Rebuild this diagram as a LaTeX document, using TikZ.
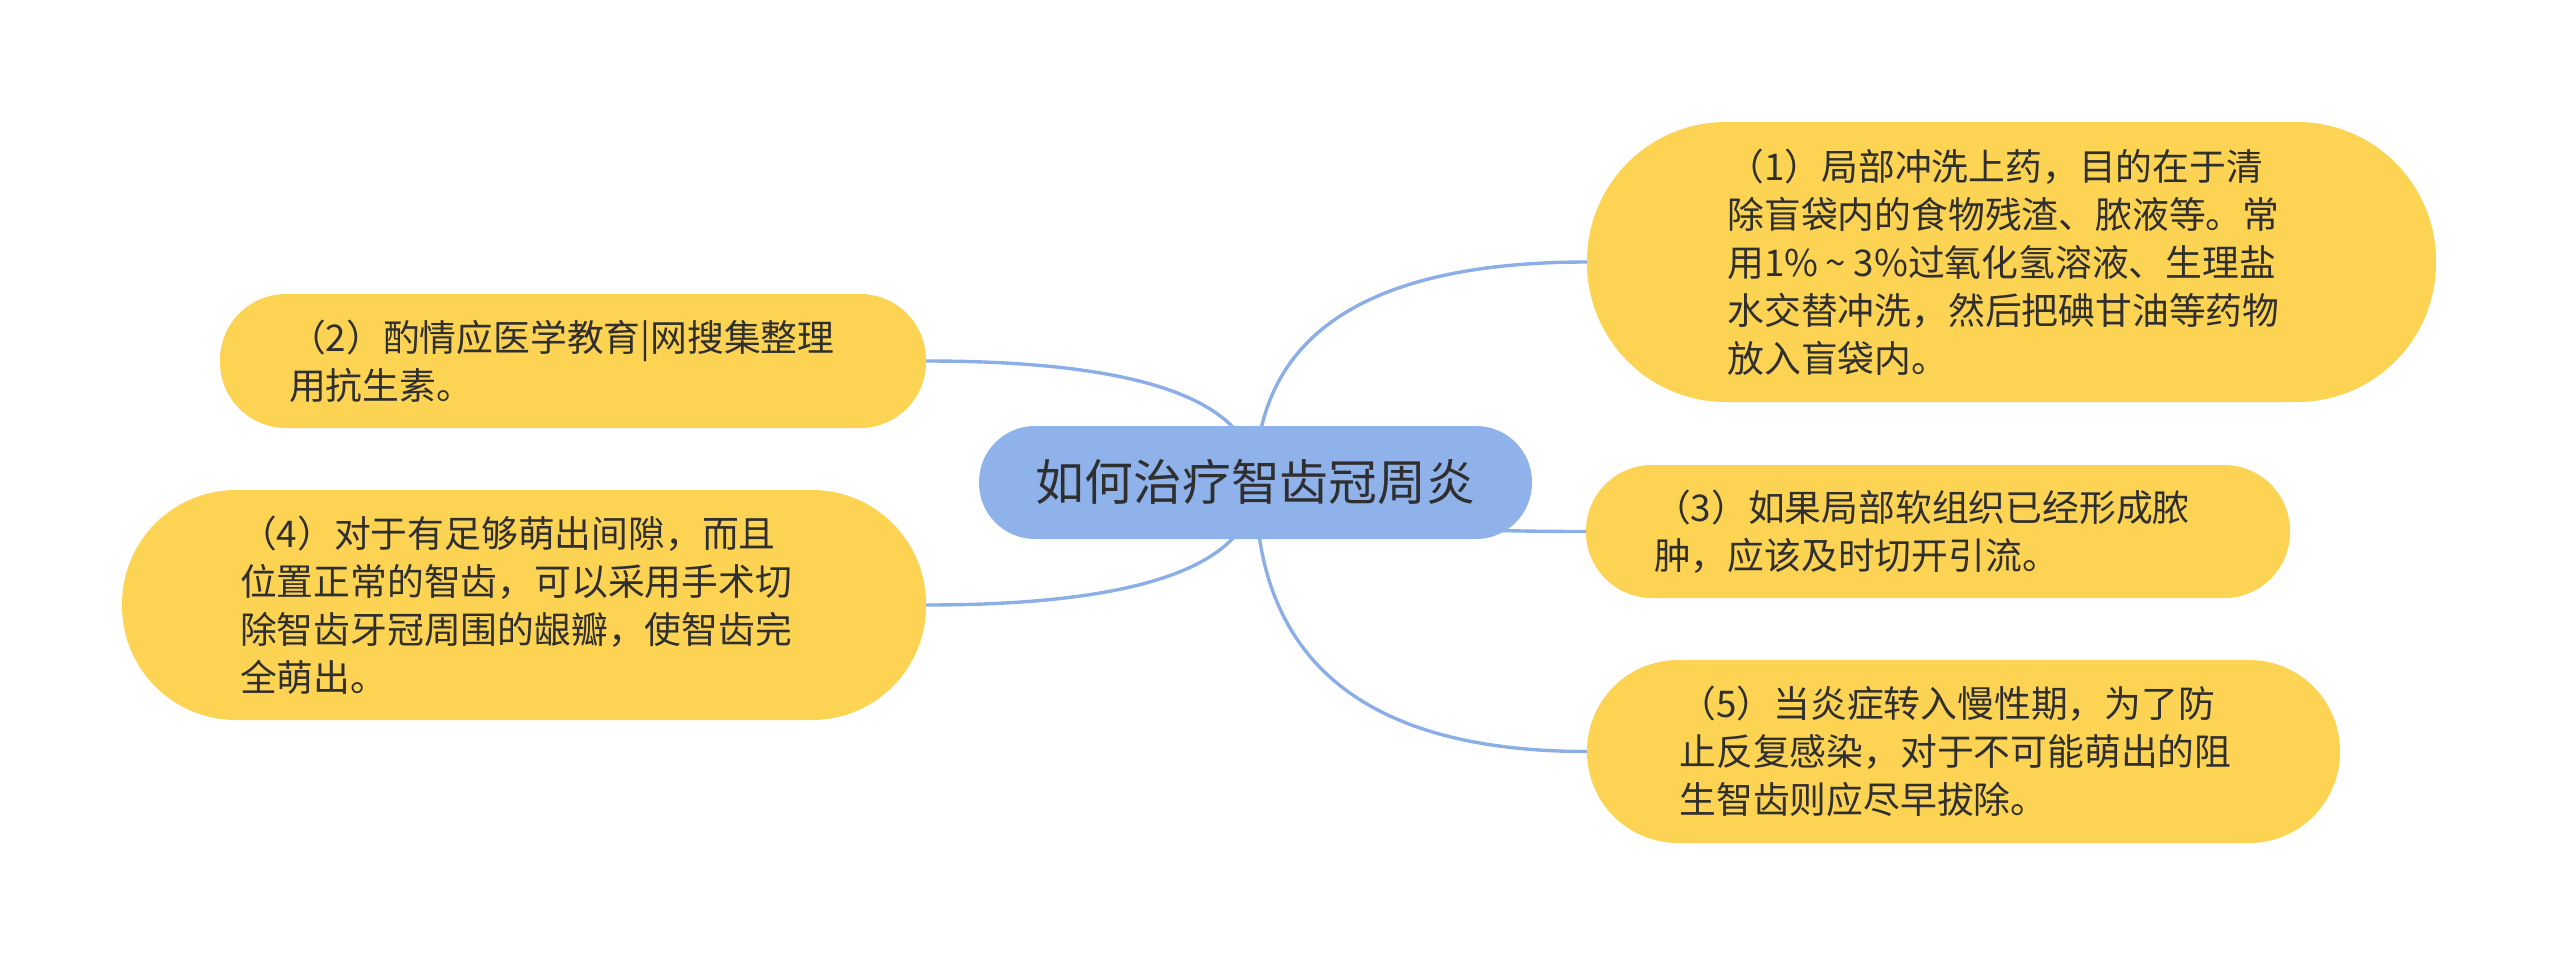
\documentclass[tikz,border=0pt]{standalone}
\usepackage{fontspec}
\newfontfamily\cjk{Noto Sans CJK SC}
\usetikzlibrary{calc}
\pgfdeclarelayer{bg}
\pgfsetlayers{bg,main}
\definecolor{leafY}{HTML}{FCD353}
\definecolor{rootB}{HTML}{8FB2EA}
\definecolor{linkB}{HTML}{8CAEE6}
\definecolor{txt}{HTML}{2F2F2F}
\begin{document}
\begin{tikzpicture}[x=1pt,y=-1pt,
  rootnode/.style={fill=rootB, text=txt, font=\cjk\fontsize{48.8}{58}\selectfont, inner sep=0pt, outer sep=0pt},
  leaf/.style={fill=leafY, text=txt, font=\cjk\fontsize{36.8}{48}\selectfont, text width=568pt, align=left, inner sep=0pt, outer sep=0pt},
  link/.style={draw=linkB, line width=3.4pt}]
\useasboundingbox (0,0) rectangle (2560,966);

\node[rootnode, minimum width=553pt, minimum height=113pt, rounded corners=56pt] (root) at (1255.5,482.5) {如何治疗智齿冠周炎};

\node[leaf, minimum width=849pt, minimum height=280pt, rounded corners=139pt] (n1) at (2011.5,262)
  {（1）局部冲洗上药，目的在于清\\除盲袋内的食物残渣、脓液等。常\\用1\%\hspace{0.2em}\textasciitilde\hspace{0.2em}3\%过氧化氢溶液、生理盐\\水交替冲洗，然后把碘甘油等药物\\放入盲袋内。};
\node[leaf, minimum width=706pt, minimum height=134pt, rounded corners=66pt] (n2) at (573,361)
  {（2）酌情应医学教育|网搜集整理\\用抗生素。};
\node[leaf, minimum width=704pt, minimum height=133pt, rounded corners=66pt] (n3) at (1938,531.5)
  {（3）如果局部软组织已经形成脓\\肿，应该及时切开引流。};
\node[leaf, minimum width=804pt, minimum height=230pt, rounded corners=114pt] (n4) at (524,605)
  {（4）对于有足够萌出间隙，而且\\位置正常的智齿，可以采用手术切\\除智齿牙冠周围的龈瓣，使智齿完\\全萌出。};
\node[leaf, minimum width=753pt, minimum height=183pt, rounded corners=91pt] (n5) at (1963.5,751.5)
  {（5）当炎症转入慢性期，为了防\\止反复感染，对于不可能萌出的阻\\生智齿则应尽早拔除。};

\begin{pgfonlayer}{bg}
\foreach \c/\a in {n1/west,n3/west,n5/west,n2/east,n4/east}{
  \draw[link] (root.center) .. controls ($(root.center)!2/3!(root.center|-\c.\a)$) and ($(\c.\a)!2/3!(root.center|-\c.\a)$) .. (\c.\a);
}
\end{pgfonlayer}
\end{tikzpicture}
\end{document}
